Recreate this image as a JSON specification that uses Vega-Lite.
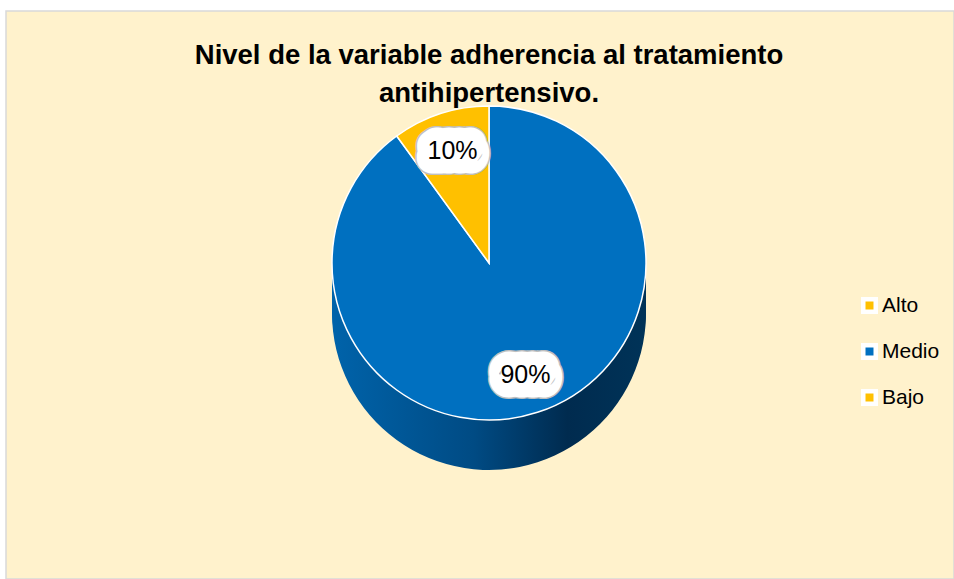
{
  "$schema": "https://vega.github.io/schema/vega-lite/v6.json",
  "width": 948,
  "height": 568,
  "autosize": {"type": "none"},
  "padding": {"left": 6, "top": 11, "right": 0, "bottom": 0},
  "background": "white",
  "view": {"fill": "#FFF2CC", "stroke": "#D9D9D9", "strokeWidth": 1.5},
  "title": {
    "text": ["Nivel de la variable adherencia al tratamiento", "antihipertensivo."],
    "font": "Liberation Sans",
    "fontSize": 27.5,
    "fontWeight": "bold",
    "color": "black",
    "anchor": "middle",
    "frame": "group",
    "orient": "top",
    "dx": 9,
    "lineHeight": 38,
    "offset": -96
  },
  "data": {
    "values": [
      {"nivel": "Alto", "orden": 1, "pct": 0.0},
      {"nivel": "Medio", "orden": 2, "pct": 0.9},
      {"nivel": "Bajo", "orden": 3, "pct": 0.1}
    ]
  },
  "encoding": {
    "theta": {"field": "pct", "type": "quantitative", "stack": true},
    "order": {"field": "orden", "type": "quantitative"}
  },
  "layer": [
    {"mark": {"type": "arc", "radius": 157, "xOffset": 9, "yOffset": 18, "color": {"gradient": "linear", "x1": 0, "x2": 1, "y1": 0, "y2": 0, "stops": [{"offset": 0, "color": "#0063AA"}, {"offset": 0.45, "color": "#004B84"}, {"offset": 0.75, "color": "#002B4F"}, {"offset": 1, "color": "#003358"}]}}},
    {"mark": {"type": "arc", "radius": 157, "xOffset": 9, "yOffset": 13, "color": {"gradient": "linear", "x1": 0, "x2": 1, "y1": 0, "y2": 0, "stops": [{"offset": 0, "color": "#0063AA"}, {"offset": 0.45, "color": "#004B84"}, {"offset": 0.75, "color": "#002B4F"}, {"offset": 1, "color": "#003358"}]}}},
    {"mark": {"type": "arc", "radius": 157, "xOffset": 9, "yOffset": 8, "color": {"gradient": "linear", "x1": 0, "x2": 1, "y1": 0, "y2": 0, "stops": [{"offset": 0, "color": "#0063AA"}, {"offset": 0.45, "color": "#004B84"}, {"offset": 0.75, "color": "#002B4F"}, {"offset": 1, "color": "#003358"}]}}},
    {"mark": {"type": "arc", "radius": 157, "xOffset": 9, "yOffset": 3, "color": {"gradient": "linear", "x1": 0, "x2": 1, "y1": 0, "y2": 0, "stops": [{"offset": 0, "color": "#0063AA"}, {"offset": 0.45, "color": "#004B84"}, {"offset": 0.75, "color": "#002B4F"}, {"offset": 1, "color": "#003358"}]}}},
    {"mark": {"type": "arc", "radius": 157, "xOffset": 9, "yOffset": -2, "color": {"gradient": "linear", "x1": 0, "x2": 1, "y1": 0, "y2": 0, "stops": [{"offset": 0, "color": "#0063AA"}, {"offset": 0.45, "color": "#004B84"}, {"offset": 0.75, "color": "#002B4F"}, {"offset": 1, "color": "#003358"}]}}},
    {"mark": {"type": "arc", "radius": 157, "xOffset": 9, "yOffset": -7, "color": {"gradient": "linear", "x1": 0, "x2": 1, "y1": 0, "y2": 0, "stops": [{"offset": 0, "color": "#0063AA"}, {"offset": 0.45, "color": "#004B84"}, {"offset": 0.75, "color": "#002B4F"}, {"offset": 1, "color": "#003358"}]}}},
    {"mark": {"type": "arc", "radius": 157, "xOffset": 9, "yOffset": -12, "color": {"gradient": "linear", "x1": 0, "x2": 1, "y1": 0, "y2": 0, "stops": [{"offset": 0, "color": "#0063AA"}, {"offset": 0.45, "color": "#004B84"}, {"offset": 0.75, "color": "#002B4F"}, {"offset": 1, "color": "#003358"}]}}},
    {"mark": {"type": "arc", "radius": 157, "xOffset": 9, "yOffset": -17, "color": {"gradient": "linear", "x1": 0, "x2": 1, "y1": 0, "y2": 0, "stops": [{"offset": 0, "color": "#0063AA"}, {"offset": 0.45, "color": "#004B84"}, {"offset": 0.75, "color": "#002B4F"}, {"offset": 1, "color": "#003358"}]}}},
    {"mark": {"type": "arc", "radius": 157, "xOffset": 9, "yOffset": -22, "color": {"gradient": "linear", "x1": 0, "x2": 1, "y1": 0, "y2": 0, "stops": [{"offset": 0, "color": "#0063AA"}, {"offset": 0.45, "color": "#004B84"}, {"offset": 0.75, "color": "#002B4F"}, {"offset": 1, "color": "#003358"}]}}},
    {"mark": {"type": "arc", "radius": 157, "xOffset": 9, "yOffset": -27, "color": {"gradient": "linear", "x1": 0, "x2": 1, "y1": 0, "y2": 0, "stops": [{"offset": 0, "color": "#0063AA"}, {"offset": 0.45, "color": "#004B84"}, {"offset": 0.75, "color": "#002B4F"}, {"offset": 1, "color": "#003358"}]}}},
    {
      "mark": {"type": "arc", "radius": 157, "xOffset": 9, "yOffset": -32, "stroke": "white", "strokeWidth": 1.5},
      "encoding": {
        "color": {
          "field": "nivel",
          "type": "nominal",
          "scale": {"domain": ["Alto", "Medio", "Bajo"], "range": ["#FFC000", "#0070C0", "#FFC000"]},
          "legend": {
            "title": null,
            "orient": "none",
            "legendX": 853,
            "legendY": 284,
            "padding": 0,
            "symbolType": "square",
            "symbolSize": 156,
            "symbolStrokeColor": "white",
            "symbolStrokeWidth": 4.5,
            "labelFont": "Liberation Sans",
            "labelFontSize": 21,
            "labelColor": "black",
            "labelOffset": 2,
            "rowPadding": 15
          }
        }
      }
    },
    {
      "transform": [{"filter": "datum.pct > 0"}],
      "mark": {"type": "text", "radius": 118, "xOffset": 9, "yOffset": -32, "font": "Liberation Sans", "fontSize": 22, "stroke": "#BFBFBF", "strokeWidth": 34, "strokeJoin": "round", "fill": "#BFBFBF"},
      "encoding": {"text": {"field": "pct", "type": "quantitative", "format": ".0%"}}
    },
    {
      "transform": [{"filter": "datum.pct > 0"}],
      "mark": {"type": "text", "radius": 118, "xOffset": 9, "yOffset": -32, "font": "Liberation Sans", "fontSize": 22, "stroke": "white", "strokeWidth": 31, "strokeJoin": "round", "fill": "white"},
      "encoding": {"text": {"field": "pct", "type": "quantitative", "format": ".0%"}}
    },
    {
      "transform": [{"filter": "datum.pct > 0"}],
      "mark": {"type": "text", "radius": 118, "xOffset": 9, "yOffset": -32, "font": "Liberation Sans", "fontSize": 25, "fill": "black"},
      "encoding": {"text": {"field": "pct", "type": "quantitative", "format": ".0%"}}
    }
  ]
}
